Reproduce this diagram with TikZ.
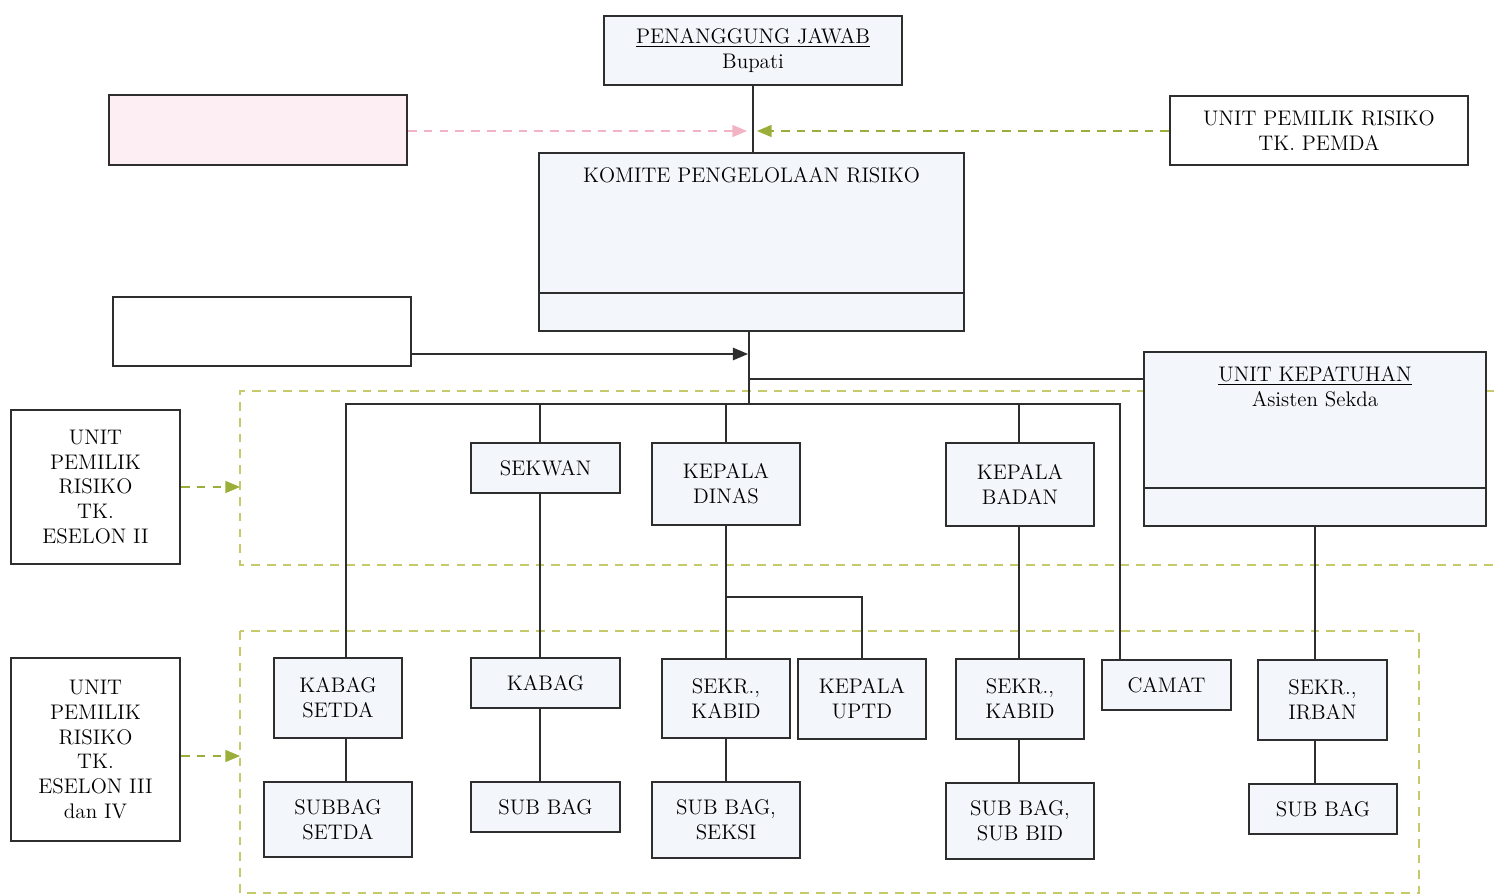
\documentclass[tikz,border=0pt]{standalone}
\usepackage{tikz}
\usetikzlibrary{arrows,positioning,calc}
\definecolor{boxblue}{HTML}{F3F6FB}
\definecolor{boxpink}{HTML}{FCEEF2}
\definecolor{linegray}{HTML}{2E2E2E}
\definecolor{grpgreen}{HTML}{C6CA6A}
\definecolor{tipgreen}{HTML}{9CAE3A}
\definecolor{pinkline}{HTML}{F2B3C4}
\tikzstyle{unit}=[draw=linegray,line width=1pt,fill=boxblue,align=center,inner sep=0pt,font=\fontsize{12}{14.2}\selectfont]
\tikzstyle{plain}=[unit,fill=white]
\tikzstyle{link}=[draw=linegray,line width=1pt]
\tikzstyle{grpline}=[draw=grpgreen,line width=0.9pt,dash pattern=on 5pt off 4pt]
\tikzstyle{greenarrow}=[draw=tipgreen!70!grpgreen,line width=0.9pt,dash pattern=on 5pt off 4pt,-triangle 45,color=tipgreen]
\tikzstyle{pinkarrow}=[draw=pinkline,line width=0.9pt,dash pattern=on 5pt off 4pt,-triangle 45]

\begin{document}
\begin{tikzpicture}[x=0.02cm,y=-0.02cm,
  wh/.style 2 args={minimum width=#1*0.02cm,minimum height=#2*0.02cm}]
\useasboundingbox (0,0) rectangle (1494,895);

% dashed groups
\draw[grpline] (1494,391) -- (240,391) -- (240,565) -- (1494,565);
\draw[grpline] (240,631) rectangle (1419,893);

% top part
\node[unit,wh={298}{69}] (pj) at (753,50.5) {\underline{PENANGGUNG JAWAB}\\Bupati};
\node[unit,fill=boxpink,wh={298}{70}] (pinkbox) at (258,130) {};
\node[plain,wh={298}{69}] (upemda) at (1319,130.5) {UNIT PEMILIK RISIKO\\TK. PEMDA};
\node[unit,wh={425}{178}] (komite) at (751.5,242) {};
\node[unit,anchor=north,fill=none,draw=none] (komitetitle) at (751.5,167) {KOMITE PENGELOLAAN RISIKO};
\draw[link] ($(komite.south west)+(0,-39)$) -- ($(komite.south east)+(0,-39)$);
\node[plain,wh={298}{69}] (whitebox) at (262,331.5) {};
\node[unit,wh={342}{174}] (kepatuhan) at (1315,439) {};
\node[unit,anchor=north,fill=none,draw=none] (kepatuhantitle) at (1315,366) {\underline{UNIT KEPATUHAN}\\Asisten Sekda};
\draw[link] ($(kepatuhan.south west)+(0,-39)$) -- ($(kepatuhan.south east)+(0,-39)$);

% left labels
\node[plain,wh={169}{154}] (eselon2) at (95.5,487) {UNIT\\PEMILIK\\RISIKO\\TK.\\ESELON II};
\node[plain,wh={169}{183}] (eselon3) at (95.5,749.5) {UNIT\\PEMILIK\\RISIKO\\TK.\\ESELON III\\dan IV};

% eselon II row
\node[unit,wh={149}{50}] (sekwan) at (545.5,468) {SEKWAN};
\node[unit,wh={148}{82}] (kepdinas) at (726,484) {KEPALA\\DINAS};
\node[unit,wh={148}{83}] (kepbadan) at (1020,484.5) {KEPALA\\BADAN};

% eselon III row
\node[unit,wh={128}{80}] (kabagsetda) at (338,698) {KABAG\\SETDA};
\node[unit,wh={149}{50}] (kabag) at (545.5,683) {KABAG};
\node[unit,wh={128}{79}] (sekrkabid) at (726,698.5) {SEKR.,\\KABID};
\node[unit,wh={128}{80}] (kepuptd) at (862,699) {KEPALA\\UPTD};
\node[unit,wh={128}{80}] (sekrkabidb) at (1020,699) {SEKR.,\\KABID};
\node[unit,wh={129}{50}] (camat) at (1166.5,685) {CAMAT};
\node[unit,wh={129}{80}] (sekrirban) at (1322.5,700) {SEKR.,\\IRBAN};

% eselon IV row
\node[unit,wh={148}{75}] (subbagsetda) at (338,819.5) {SUBBAG\\SETDA};
\node[unit,wh={149}{50}] (subbag) at (545.5,807) {SUB BAG};
\node[unit,wh={148}{76}] (subbagseksi) at (726,820) {SUB BAG,\\SEKSI};
\node[unit,wh={148}{76}] (subbagsubbid) at (1020,821) {SUB BAG,\\SUB BID};
\node[unit,wh={148}{50}] (subbagirban) at (1323,809) {SUB BAG};

% columns of the connectors
\coordinate (hub) at (749,404);
\coordinate (xa) at (346,404);
\coordinate (xb) at (540,404);
\coordinate (xc) at (726,404);
\coordinate (xd) at (1019,404);
\coordinate (xe) at (1120,404);
\coordinate (xu) at (726,597);
\coordinate (xi) at (1315,404);
\coordinate (kjoin) at (749,379);
\coordinate (arrin) at (748,354);
\coordinate (tippink) at (747,131);
\coordinate (tipgreen) at (757,131);
\coordinate (grp) at (240,0);

% connectors
\draw[link] (pj.south) -- (pj.south |- komite.north);
\draw[link] (hub |- komite.south) -- (hub);
\draw[link,-triangle 45] (whitebox.east |- arrin) -- (arrin);
\draw[pinkarrow] (pinkbox.east |- tippink) -- (tippink);
\draw[greenarrow] (upemda.west |- tipgreen) -- (tipgreen);
\draw[link] (kjoin) -- (kjoin -| kepatuhan.west);
\draw[link] (xa |- kabagsetda.north) -- (xa) -- (xe) -- (xe |- camat.north);
\foreach \c/\n in {xb/sekwan,xc/kepdinas,xd/kepbadan}
  \draw[link] (\c) -- (\c |- \n.north);
\draw[link] (xa |- kabagsetda.south) -- (xa |- subbagsetda.north);
\draw[link] (xb |- sekwan.south) -- (xb |- kabag.north);
\draw[link] (xb |- kabag.south) -- (xb |- subbag.north);
\draw[link] (xc |- kepdinas.south) -- (xc |- sekrkabid.north);
\draw[link] (xu) -| (kepuptd.north);
\draw[link] (xc |- sekrkabid.south) -- (xc |- subbagseksi.north);
\draw[link] (xd |- kepbadan.south) -- (xd |- sekrkabidb.north);
\draw[link] (xd |- sekrkabidb.south) -- (xd |- subbagsubbid.north);
\draw[link] (xi |- kepatuhan.south) -- (xi |- sekrirban.north);
\draw[link] (xi |- sekrirban.south) -- (xi |- subbagirban.north);
\draw[greenarrow] (eselon2.east) -- (eselon2.east -| grp);
\draw[greenarrow] (eselon3.east |- 0,756) -- (grp |- 0,756);
\end{tikzpicture}
\end{document}
